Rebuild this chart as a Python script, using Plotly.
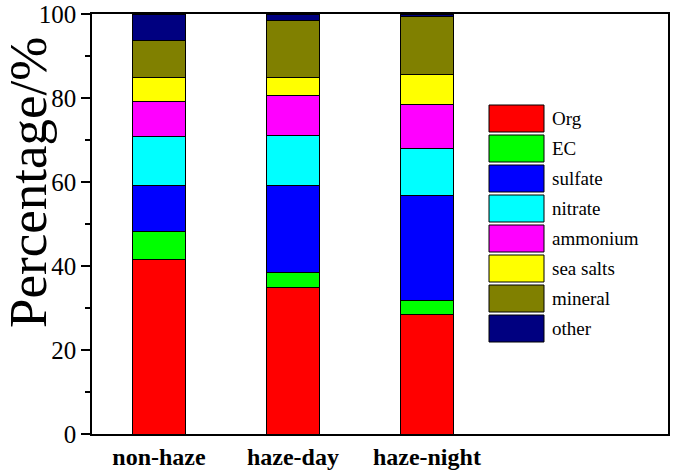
import plotly.graph_objects as go

categories = ["non-haze", "haze-day", "haze-night"]
series_names = ["Org", "EC", "sulfate", "nitrate", "ammonium", "sea salts", "mineral", "other"]
org = [41.5, 34.8, 28.5]
ec = [6.8, 3.7, 3.3]
sulfate = [10.9, 20.7, 25.0]
nitrate = [11.6, 11.8, 11.2]
ammonium = [8.4, 9.5, 10.5]
sea_salts = [5.8, 4.5, 7.0]
mineral = [8.8, 13.5, 14.0]
other = [6.2, 1.5, 0.5]
colors = ["#FF0000", "#00FF00", "#0000FF", "#00FFFF", "#FF00FF", "#FFFF00", "#808000", "#000080"]
y_ticks = [0, 20, 40, 60, 80, 100]

series_values = [org, ec, sulfate, nitrate, ammonium, sea_salts, mineral, other]

FONT = "Liberation Serif, Times New Roman, serif"
W, H = 675, 473
L, R, T, B = 92, 7, 14, 39
pw, ph = W - L - R, H - T - B

fig = go.Figure()
for name, vals, col in zip(series_names, series_values, colors):
    fig.add_trace(go.Bar(
        x=categories, y=vals, name=name,
        marker=dict(color=col, line=dict(color="#000000", width=1)),
        width=0.4, showlegend=False,
    ))

# custom legend with large swatches
shapes = []
annotations = []
for i, (name, col) in enumerate(zip(series_names, colors)):
    top = 105 + 30 * i
    bot = top + 27
    shapes.append(dict(
        type="rect", xref="paper", yref="paper",
        x0=(489 - L) / pw, x1=(544 - L) / pw,
        y0=(H - B - bot) / ph, y1=(H - B - top) / ph,
        fillcolor=col, line=dict(color="#000000", width=1),
    ))
    annotations.append(dict(
        xref="paper", yref="paper",
        x=(550 - L) / pw, y=(H - B - (top + 13.5)) / ph,
        xanchor="left", yanchor="middle", text=name, showarrow=False,
        font=dict(family=FONT, size=19, color="#000000"),
    ))

annotations.append(dict(
    xref="paper", yref="paper", x=(28 - L) / pw, y=(H - B - 183) / ph,
    xanchor="center", yanchor="middle", text="Percentage/%", textangle=-90,
    showarrow=False, font=dict(family=FONT, size=53, color="#000000"),
))

fig.update_layout(
    template="none",
    barmode="stack",
    width=W, height=H,
    margin=dict(l=L, r=R, t=T, b=B, autoexpand=False),
    plot_bgcolor="#FFFFFF", paper_bgcolor="#FFFFFF",
    shapes=shapes, annotations=annotations,
    font=dict(family=FONT, color="#000000"),
    xaxis=dict(
        type="category", range=[-0.5, 3.8], automargin=False,
        showline=True, linecolor="#000000", linewidth=1.5, mirror=True,
        ticks="", showgrid=False, zeroline=False,
        tickfont=dict(family=FONT, size=24, color="#000000", weight="bold"),
    ),
    yaxis=dict(
        range=[0, 100], tickvals=y_ticks, automargin=False,
        showline=True, linecolor="#000000", linewidth=1.5, mirror=True,
        ticks="outside", ticklen=9, tickwidth=1.5, tickcolor="#000000",
        minor=dict(dtick=10, ticks="outside", ticklen=5, tickwidth=1.5, tickcolor="#000000"),
        showgrid=False, zeroline=False,
        tickfont=dict(family=FONT, size=25, color="#000000"),
    ),
)

fig.write_html(
    "out.html",
    config={"displayModeBar": False},
    post_script="document.body.style.margin='0';document.body.style.overflow='hidden';",
)
